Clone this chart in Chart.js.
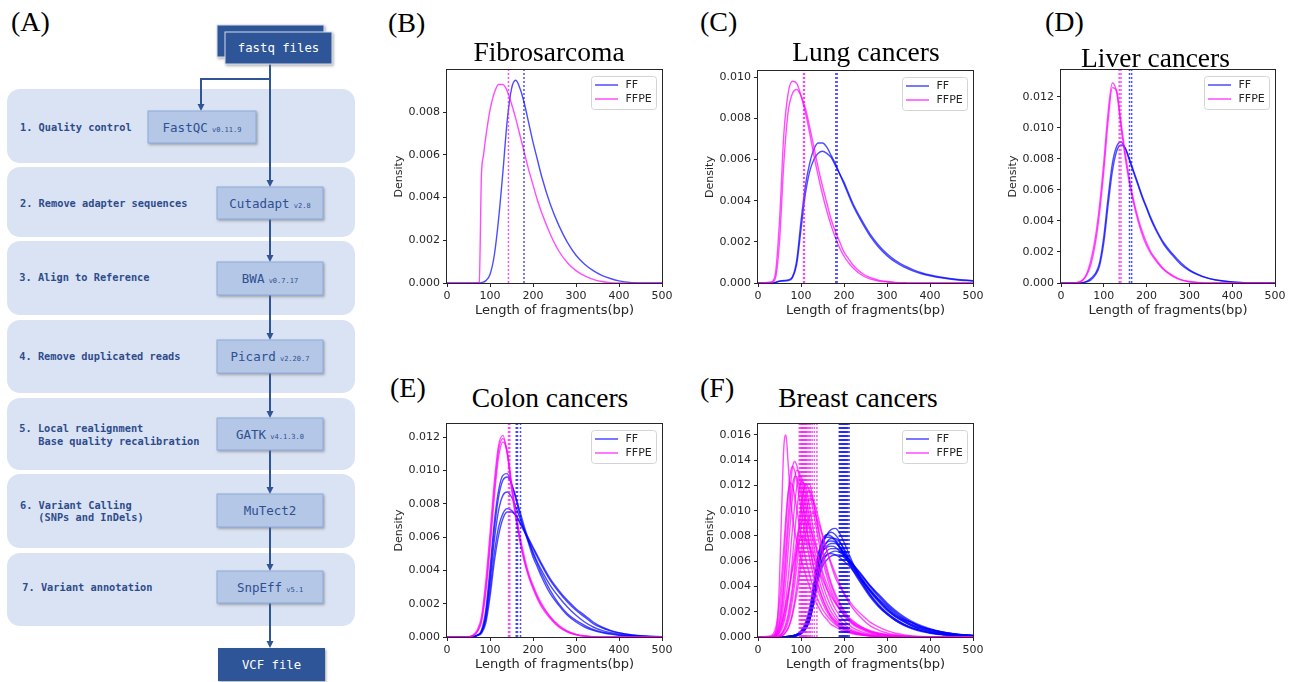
<!DOCTYPE html>
<html lang="en">
<head>
  <meta charset="UTF-8" />
  <title>cfDNA fragment length: FF vs FFPE</title>
  <script src="https://cdn.jsdelivr.net/npm/chart.js@4.4.0/dist/chart.umd.min.js"></script>
  <style>
    body { margin: 0; background: #fff; width: 1298px; height: 682px; overflow: hidden; position: relative; }
    canvas { position: absolute; }
    .ttl { position: absolute; width: 300px; text-align: center; white-space: nowrap;
           font-family: 'Liberation Serif', 'Times New Roman', serif; font-size: 27.5px; line-height: 1; color: #000; }
    .lt  { position: absolute; white-space: nowrap;
           font-family: 'Liberation Serif', 'Times New Roman', serif; font-size: 28px; line-height: 1; color: #000; }
  </style>
</head>
<body>

<!-- (A) pipeline -->
<svg width="370" height="682" style="position:absolute;left:0;top:0" font-family="'DejaVu Sans Mono', monospace">
  <defs>
    <filter id="sh" x="-20%" y="-20%" width="150%" height="160%">
      <feDropShadow dx="1.2" dy="1.5" stdDeviation="0.9" flood-color="#6d6d6d" flood-opacity="0.55"/>
    </filter>
  </defs>
  <g fill="#dae3f3">
    <rect x="7" y="89" width="348" height="74" rx="13"/>
    <rect x="7" y="167" width="348" height="70" rx="13"/>
    <rect x="7" y="241" width="348" height="74" rx="13"/>
    <rect x="7" y="320" width="348" height="73" rx="13"/>
    <rect x="7" y="398" width="348" height="72" rx="13"/>
    <rect x="7" y="474" width="348" height="74" rx="13"/>
    <rect x="7" y="553" width="348" height="73" rx="13"/>
  </g>
  <path d="M270 64V181M270 79H201V105M270 219V256M270 295V334M270 373V412M270 450V488M270 527V565M270 603V642"
        stroke="#2f5597" stroke-width="2" fill="none"/>
  <g fill="#2f5597">
    <polygon points="197.5,104 204.5,104 201,111"/>
    <polygon points="266.5,180 273.5,180 270,187"/>
    <polygon points="266.5,255 273.5,255 270,262"/>
    <polygon points="266.5,333 273.5,333 270,340"/>
    <polygon points="266.5,411 273.5,411 270,418"/>
    <polygon points="266.5,487 273.5,487 270,494"/>
    <polygon points="266.5,564 273.5,564 270,571"/>
    <polygon points="266.5,641 273.5,641 270,648"/>
  </g>
  <g filter="url(#sh)">
    <rect x="217" y="25" width="107" height="32" fill="#2f5597" stroke="#d6dcea" stroke-width="1"/>
    <rect x="225" y="32" width="107" height="32" fill="#2f5597" stroke="#d6dcea" stroke-width="1"/>
    <g fill="#b4c7e7" stroke="#8eaadb" stroke-width="1">
      <rect x="148" y="111" width="108" height="32"/>
      <rect x="217" y="187" width="106" height="32"/>
      <rect x="217" y="262" width="106" height="33"/>
      <rect x="217" y="340" width="106" height="33"/>
      <rect x="217" y="418" width="106" height="32"/>
      <rect x="217" y="494" width="106" height="33"/>
      <rect x="217" y="571" width="106" height="32"/>
    </g>
    <rect x="218" y="648" width="107" height="33" fill="#2f5597"/>
  </g>
  <g fill="#fff" font-size="12.3" text-anchor="middle">
    <text x="278.5" y="52.3">fastq files</text>
    <text x="271.5" y="668.8">VCF file</text>
  </g>
  <g fill="#2f4f8f" font-size="12.5" text-anchor="middle">
    <text x="202" y="131.5">FastQC<tspan font-size="7"> v0.11.9</tspan></text>
    <text x="270" y="207.5">Cutadapt<tspan font-size="7"> v2.8</tspan></text>
    <text x="270" y="283">BWA<tspan font-size="7"> v0.7.17</tspan></text>
    <text x="270" y="361">Picard<tspan font-size="7"> v2.20.7</tspan></text>
    <text x="270" y="438.5">GATK<tspan font-size="7"> v4.1.3.0</tspan></text>
    <text x="270" y="515">MuTect2</text>
    <text x="270" y="591.5">SnpEff<tspan font-size="7"> v5.1</tspan></text>
  </g>
  <g fill="#2e4c8c" font-size="10.3" font-weight="bold">
    <text x="20" y="131.4">1. Quality control</text>
    <text x="20" y="207">2. Remove adapter sequences</text>
    <text x="19.3" y="281.4">3. Align to Reference</text>
    <text x="19.3" y="359.7">4. Remove duplicated reads</text>
    <text x="19.3" y="432">5. Local realignment</text>
    <text x="38.3" y="444.7">Base quality recalibration</text>
    <text x="20" y="508.7">6. Variant Calling</text>
    <text x="38.3" y="521.4">(SNPs and InDels)</text>
    <text x="22.3" y="591.4">7. Variant annotation</text>
  </g>
</svg>

<canvas id="cB" width="293" height="265" style="left:387px;top:60px"></canvas>
<canvas id="cC" width="293" height="264" style="left:698px;top:61px"></canvas>
<canvas id="cD" width="292" height="265" style="left:1001px;top:60px"></canvas>
<canvas id="cE" width="293" height="265" style="left:387px;top:414px"></canvas>
<canvas id="cF" width="293" height="265" style="left:698px;top:414px"></canvas>

<div class="lt" style="left:11px;top:7.5px">(A)</div>
<div class="lt" style="left:388px;top:8.5px">(B)</div>
<div class="lt" style="left:700px;top:8px">(C)</div>
<div class="lt" style="left:1045px;top:8px">(D)</div>
<div class="lt" style="left:390px;top:373.5px">(E)</div>
<div class="lt" style="left:700px;top:373.5px">(F)</div>

<div class="ttl" style="left:399px;top:38px">Fibrosarcoma</div>
<div class="ttl" style="left:716px;top:38px">Lung cancers</div>
<div class="ttl" style="left:1005.5px;top:44px">Liver cancers</div>
<div class="ttl" style="left:400px;top:384px">Colon cancers</div>
<div class="ttl" style="left:708px;top:384px">Breast cancers</div>

<script>
// fragment length grids (bp)
const GRID = [0,30,40,50,60,70,80,90,100,110,120,130,140,150,160,170,180,190,200,210,220,240,260,280,300,320,340,360,380,400,430,460,500];
const GRID_FINE = [0,30,40,45,50,55,60,65,70,75,80,85,90,95,100,110,120,130,140,150,160,170,180,190,200,210,220,240,260,280,300,320,340,360,380,400,430,460,500];

const X_TICKS = [0,100,200,300,400,500];

// (B) Fibrosarcoma
const fibroFF = [0,0,0,0,0,0,0.00002,0.0001,0.0004,0.0013,0.0030,0.0052,0.0076,0.0091,0.0095,0.0091,0.0084,0.0075,0.0066,0.0058,0.0050,0.0037,0.0027,0.0019,0.0013,0.00088,0.00058,0.00036,0.00021,0.0001,0.00002,0,0];
const fibroFFPE = [0,0,0,0,0,0,0,0,0.00001,0.00005,0.0050,0.0060,0.0068,0.0075,0.0081,0.0089,0.0093,0.0093,0.0090,0.0084,0.0077,0.0069,0.0061,0.0053,0.0046,0.0039,0.0033,0.0023,0.0015,0.00095,0.00058,0.00033,0.00017,0.00007,0.00002,0,0,0,0];
const fibroMeanFF = [179];
const fibroMeanFFPE = [143];
const fibroYTicks = [0,0.002,0.004,0.006,0.008];

// (C) Lung cancers
const lungFF1 = [0,0,0.00003,0.0001,0.00012,0.00015,0.0003,0.0011,0.0030,0.0047,0.0058,0.0065,0.0068,0.0068,0.0066,0.0062,0.0058,0.0053,0.0048,0.0043,0.0038,0.0030,0.0023,0.00175,0.00133,0.00101,0.00077,0.00059,0.00045,0.00035,0.00024,0.00016,0.0001];
const lungFF2 = [0,0,0.00002,0.00008,0.0001,0.00012,0.00025,0.0009,0.0026,0.0043,0.0054,0.0060,0.0063,0.0064,0.0063,0.0061,0.0057,0.0053,0.0049,0.0044,0.0039,0.0031,0.0024,0.00185,0.00142,0.00109,0.00084,0.00065,0.0005,0.00039,0.00027,0.00018,0.00011];
const lungFFPE1 = [0,0.00005,0.0004,0.0030,0.0072,0.0092,0.0098,0.0097,0.0091,0.0083,0.0073,0.0062,0.0052,0.0043,0.0035,0.0028,0.0022,0.0017,0.0013,0.0010,0.00075,0.0004,0.0002,0.0001,0.00005,0.00002,0.00001,0,0,0,0,0,0];
const lungFFPE2 = [0,0.00002,0.0002,0.0020,0.0058,0.0083,0.0092,0.0094,0.0091,0.0085,0.0076,0.0066,0.0056,0.0047,0.0039,0.0031,0.0025,0.0020,0.0015,0.0012,0.0009,0.0005,0.00027,0.00014,0.00007,0.00003,0.00001,0,0,0,0,0,0];
const lungMeanFF = [181,184];
const lungMeanFFPE = [106,108];
const lungYTicks = [0,0.002,0.004,0.006,0.008,0.010];

// (D) Liver cancers
const liverFF1 = [0,0,0,0.00002,0.0001,0.0003,0.0006,0.0013,0.0030,0.0055,0.0077,0.0088,0.0091,0.0087,0.0079,0.0071,0.0063,0.0055,0.0048,0.0041,0.0035,0.0025,0.0018,0.0012,0.0008,0.00053,0.00033,0.0002,0.00012,0.00006,0.00002,0,0];
const liverFF2 = [0,0,0,0.00001,0.00008,0.0002,0.0005,0.0011,0.0026,0.0050,0.0072,0.0085,0.0089,0.0087,0.0080,0.0072,0.0064,0.0056,0.0049,0.0042,0.0036,0.0026,0.0019,0.0013,0.00085,0.00056,0.00035,0.00021,0.00013,0.00007,0.00002,0,0];
const liverFFPE1 = [0,0,0.00005,0.0002,0.0006,0.0015,0.0029,0.0050,0.0078,0.0110,0.0129,0.0123,0.0101,0.0081,0.0064,0.0051,0.0040,0.0031,0.0024,0.0019,0.0015,0.00085,0.00045,0.0002,0.00008,0.00002,0,0,0,0,0,0,0];
const liverFFPE2 = [0,0,0.00003,0.00015,0.0005,0.0012,0.0025,0.0045,0.0072,0.0104,0.0126,0.0124,0.0104,0.0084,0.0067,0.0053,0.0042,0.0033,0.0026,0.0020,0.0016,0.0009,0.0005,0.00022,0.0001,0.00003,0,0,0,0,0,0,0];
const liverMeanFF = [160,165];
const liverMeanFFPE = [136,140];
const liverYTicks = [0,0.002,0.004,0.006,0.008,0.010,0.012];

// (E) Colon cancers
const colonFF1 = [0,0,0,0,0.00003,0.0001,0.0004,0.0016,0.0041,0.0069,0.0088,0.0097,0.0098,0.0092,0.0083,0.0073,0.0064,0.0056,0.0048,0.0042,0.0036,0.0026,0.0019,0.0013,0.0009,0.0006,0.0004,0.00026,0.00017,0.0001,0.00005,0.00002,0];
const colonFF2 = [0,0,0,0,0.00003,0.0001,0.0003,0.0013,0.0036,0.0064,0.0084,0.0094,0.0096,0.0092,0.0084,0.0075,0.0066,0.0058,0.0050,0.0044,0.0038,0.0028,0.0020,0.0014,0.0010,0.0007,0.00045,0.0003,0.0002,0.00012,0.00006,0.00003,0];
const colonFF3 = [0,0,0,0,0.00002,0.0001,0.0003,0.0012,0.0033,0.0058,0.0076,0.0085,0.0087,0.0084,0.0078,0.0071,0.0064,0.0057,0.0051,0.0045,0.0040,0.0031,0.0024,0.0018,0.0013,0.0009,0.0006,0.0004,0.00027,0.00017,0.00008,0.00003,0.00001];
const colonFF4 = [0,0,0,0,0,0.0001,0.0003,0.0010,0.0028,0.0050,0.0066,0.0074,0.0077,0.0076,0.0073,0.0068,0.0063,0.0058,0.0053,0.0048,0.0043,0.0034,0.0027,0.0021,0.0016,0.0012,0.0008,0.00055,0.00037,0.00024,0.00012,0.00005,0.00001];
const colonFF5 = [0,0,0,0,0,0.00008,0.0002,0.0008,0.0024,0.0045,0.0061,0.0071,0.0075,0.0075,0.0073,0.0069,0.0064,0.0059,0.0054,0.0049,0.0044,0.0035,0.0028,0.0022,0.0017,0.0013,0.0009,0.0006,0.0004,0.00026,0.00013,0.00006,0.00002];
const colonFFPE1 = [0,0,0,0.00002,0.0001,0.0004,0.0012,0.0033,0.0062,0.0093,0.0115,0.0121,0.0110,0.0089,0.0071,0.0057,0.0045,0.0036,0.0029,0.0023,0.0018,0.0011,0.0006,0.0003,0.00013,0.00005,0.00001,0,0,0,0,0,0];
const colonFFPE2 = [0,0,0,0.00001,0.00008,0.0003,0.0010,0.0029,0.0057,0.0088,0.0112,0.0119,0.0111,0.0091,0.0073,0.0058,0.0046,0.0037,0.0030,0.0024,0.0019,0.0012,0.00065,0.00033,0.00015,0.00006,0.00002,0,0,0,0,0,0];
const colonFFPE3 = [0,0,0,0.00001,0.00007,0.0003,0.0009,0.0026,0.0053,0.0084,0.0108,0.0117,0.0111,0.0093,0.0075,0.0060,0.0048,0.0038,0.0031,0.0025,0.0020,0.0012,0.0007,0.00035,0.00016,0.00006,0.00002,0,0,0,0,0,0];
const colonMeanFF = [161,164,171];
const colonMeanFFPE = [143,146];
const colonYTicks = [0,0.002,0.004,0.006,0.008,0.010,0.012];

// (F) Breast cancers, FF on GRID
const breastFF1  = [0,0,0,0,0.00001,0.00003,0.00006,0.00012,0.0003,0.0007,0.0015,0.0031,0.0055,0.0072,0.0081,0.0085,0.0086,0.0082,0.0075,0.0067,0.0059,0.0045,0.0034,0.0025,0.0018,0.0013,0.0009,0.00062,0.00043,0.0003,0.00017,0.0001,0.00005];
const breastFF2  = [0,0,0,0,0.00001,0.00003,0.00007,0.00015,0.0003,0.0007,0.0016,0.0034,0.0059,0.0075,0.0081,0.0083,0.0081,0.0076,0.0069,0.0062,0.0056,0.0044,0.0034,0.0026,0.0019,0.0014,0.0010,0.0007,0.0005,0.00035,0.0002,0.00012,0.00006];
const breastFF3  = [0,0,0,0,0.00002,0.00004,0.00008,0.00018,0.0004,0.0009,0.0020,0.0040,0.0064,0.0077,0.0081,0.0080,0.0077,0.0072,0.0066,0.0060,0.0054,0.0043,0.0033,0.0025,0.0019,0.0014,0.0010,0.0007,0.0005,0.00035,0.0002,0.00012,0.00006];
const breastFF4  = [0,0,0,0,0.00001,0.00003,0.00006,0.00013,0.0003,0.0006,0.0014,0.0030,0.0053,0.0068,0.0075,0.0078,0.0078,0.0075,0.0070,0.0064,0.0058,0.0047,0.0037,0.0029,0.0022,0.0016,0.0012,0.00085,0.0006,0.00043,0.00026,0.00015,0.00008];
const breastFF5  = [0,0,0,0,0.00002,0.00004,0.00008,0.00017,0.0004,0.0008,0.0018,0.0036,0.0058,0.0070,0.0075,0.0076,0.0075,0.0071,0.0066,0.0061,0.0056,0.0046,0.0036,0.0028,0.0021,0.0016,0.0012,0.00085,0.0006,0.00043,0.00026,0.00015,0.00008];
const breastFF6  = [0,0,0,0,0.00001,0.00003,0.00006,0.00014,0.0003,0.0007,0.0016,0.0033,0.0055,0.0067,0.0072,0.0074,0.0074,0.0071,0.0067,0.0062,0.0057,0.0047,0.0038,0.0030,0.0023,0.0017,0.0013,0.00095,0.0007,0.0005,0.0003,0.00018,0.0001];
const breastFF7  = [0,0,0,0,0.00002,0.00004,0.00009,0.0002,0.0004,0.0009,0.0019,0.0038,0.0058,0.0068,0.0071,0.0072,0.0071,0.0068,0.0064,0.0060,0.0055,0.0046,0.0037,0.0029,0.0022,0.0017,0.0013,0.00095,0.0007,0.0005,0.0003,0.00018,0.0001];
const breastFF8  = [0,0,0,0,0.00001,0.00003,0.00006,0.00013,0.0003,0.0006,0.0014,0.0030,0.0050,0.0062,0.0068,0.0070,0.0070,0.0069,0.0066,0.0062,0.0058,0.0049,0.0040,0.0032,0.0025,0.0019,0.0014,0.0011,0.0008,0.0006,0.00037,0.00022,0.00011];
const breastFF9  = [0,0,0,0,0.00001,0.00002,0.00005,0.0001,0.00025,0.0006,0.0013,0.0028,0.0047,0.0059,0.0065,0.0067,0.0068,0.0067,0.0065,0.0062,0.0058,0.0050,0.0041,0.0033,0.0026,0.0020,0.0015,0.0011,0.0008,0.0006,0.00038,0.00023,0.00012];
const breastFF10 = [0,0,0,0,0.00002,0.00004,0.00009,0.0002,0.0004,0.0009,0.0019,0.0036,0.0053,0.0062,0.0065,0.0066,0.0065,0.0063,0.0060,0.0057,0.0053,0.0045,0.0037,0.0030,0.0024,0.0018,0.0014,0.0011,0.0008,0.0006,0.00038,0.00023,0.00012];
const breastFF11 = [0,0,0,0,0.00001,0.00002,0.00005,0.0001,0.00025,0.0006,0.0013,0.0027,0.0045,0.0056,0.0061,0.0064,0.0065,0.0065,0.0063,0.0060,0.0057,0.0049,0.0041,0.0034,0.0027,0.0021,0.0016,0.0012,0.0009,0.00065,0.0004,0.00025,0.00013];
const breastFF12 = [0,0,0,0,0.00002,0.00005,0.0001,0.0002,0.0005,0.0011,0.0023,0.0043,0.0065,0.0076,0.0079,0.0079,0.0076,0.0071,0.0065,0.0059,0.0053,0.0042,0.0032,0.0024,0.0018,0.0013,0.00095,0.00068,0.00048,0.00034,0.0002,0.00012,0.00006];

// (F) Breast cancers, FFPE on GRID_FINE
const breastFFPE1  = [0,0,0.0003,0.0012,0.0045,0.0100,0.0150,0.0160,0.0138,0.0113,0.0096,0.0084,0.0076,0.0069,0.0062,0.0050,0.0040,0.0031,0.0024,0.0018,0.0014,0.0010,0.0008,0.0006,0.00045,0.00035,0.00026,0.00015,0.00008,0.00004,0.00002,0.00001,0,0,0,0,0,0,0];
const breastFFPE2  = [0,0.00002,0.0002,0.0005,0.0012,0.0025,0.0045,0.0070,0.0095,0.0118,0.0134,0.0139,0.0136,0.0128,0.0118,0.0095,0.0073,0.0055,0.0041,0.0030,0.0022,0.0016,0.0012,0.0009,0.00065,0.0005,0.00037,0.0002,0.0001,0.00005,0.00002,0.00001,0,0,0,0,0,0,0];
const breastFFPE3  = [0,0.00003,0.0003,0.0008,0.0018,0.0036,0.0060,0.0088,0.0112,0.0129,0.0135,0.0132,0.0124,0.0113,0.0102,0.0080,0.0062,0.0047,0.0036,0.0027,0.0020,0.0015,0.0011,0.0008,0.0006,0.00045,0.00033,0.00018,0.0001,0.00005,0.00002,0.00001,0,0,0,0,0,0,0];
const breastFFPE4  = [0,0,0.0001,0.0003,0.0007,0.0015,0.0028,0.0046,0.0068,0.0090,0.0110,0.0125,0.0132,0.0131,0.0125,0.0106,0.0084,0.0064,0.0048,0.0036,0.0027,0.0020,0.0015,0.0011,0.0008,0.0006,0.00045,0.00025,0.00013,0.00007,0.00003,0.00001,0,0,0,0,0,0,0];
const breastFFPE5  = [0,0.0001,0.0006,0.0014,0.0028,0.0048,0.0072,0.0096,0.0114,0.0122,0.0120,0.0112,0.0102,0.0091,0.0081,0.0063,0.0049,0.0038,0.0029,0.0022,0.0017,0.0013,0.0010,0.00075,0.00057,0.00043,0.00032,0.00018,0.0001,0.00005,0.00002,0.00001,0,0,0,0,0,0,0];
const breastFFPE6  = [0,0,0.00005,0.0002,0.0005,0.0010,0.0018,0.0030,0.0046,0.0065,0.0085,0.0104,0.0119,0.0127,0.0127,0.0114,0.0093,0.0072,0.0055,0.0042,0.0032,0.0024,0.0018,0.0013,0.0010,0.00075,0.00055,0.0003,0.00016,0.00008,0.00004,0.00002,0.00001,0,0,0,0,0,0];
const breastFFPE7  = [0,0,0.00003,0.0001,0.0003,0.0006,0.0011,0.0019,0.0030,0.0045,0.0062,0.0081,0.0099,0.0114,0.0123,0.0120,0.0103,0.0082,0.0064,0.0049,0.0038,0.0029,0.0022,0.0017,0.0013,0.0010,0.00075,0.00042,0.00023,0.00012,0.00006,0.00003,0.00001,0,0,0,0,0,0];
const breastFFPE8  = [0,0,0,0.00005,0.00015,0.0003,0.0006,0.0011,0.0018,0.0028,0.0040,0.0055,0.0072,0.0089,0.0104,0.0121,0.0115,0.0097,0.0078,0.0061,0.0048,0.0037,0.0029,0.0022,0.0017,0.0013,0.0010,0.0006,0.00034,0.00019,0.0001,0.00005,0.00002,0.00001,0,0,0,0,0];
const breastFFPE9  = [0,0,0,0,0.0001,0.0002,0.0004,0.0007,0.0012,0.0019,0.0029,0.0041,0.0055,0.0071,0.0086,0.0110,0.0116,0.0105,0.0087,0.0070,0.0055,0.0043,0.0034,0.0027,0.0021,0.0016,0.0013,0.0008,0.00045,0.00026,0.00014,0.00007,0.00003,0.00001,0,0,0,0,0];
const breastFFPE10 = [0,0,0.00005,0.00015,0.0004,0.0008,0.0014,0.0022,0.0032,0.0043,0.0055,0.0066,0.0077,0.0085,0.0091,0.0093,0.0088,0.0077,0.0064,0.0052,0.0042,0.0034,0.0027,0.0022,0.0018,0.0014,0.0011,0.0007,0.00045,0.00028,0.00017,0.0001,0.00005,0.00002,0.00001,0,0,0,0];
const breastFFPE11 = [0,0,0.0001,0.0003,0.0006,0.0011,0.0018,0.0026,0.0035,0.0044,0.0053,0.0061,0.0069,0.0075,0.0079,0.0078,0.0072,0.0063,0.0054,0.0046,0.0038,0.0032,0.0027,0.0022,0.0018,0.0015,0.0012,0.0008,0.00052,0.00033,0.0002,0.00012,0.00007,0.00003,0.00001,0,0,0,0];
const breastFFPE12 = [0,0,0,0,0.00005,0.0001,0.0002,0.0004,0.0007,0.0012,0.0019,0.0028,0.0040,0.0054,0.0068,0.0094,0.0110,0.0107,0.0095,0.0081,0.0068,0.0057,0.0047,0.0040,0.0034,0.0028,0.0023,0.0015,0.0009,0.00055,0.00032,0.00018,0.0001,0.00005,0.00002,0.00001,0,0,0];
const breastFFPE13 = [0,0.00001,0.0001,0.0004,0.0010,0.0021,0.0038,0.0060,0.0084,0.0105,0.0120,0.0127,0.0127,0.0121,0.0112,0.0091,0.0071,0.0054,0.0041,0.0031,0.0023,0.0017,0.0013,0.0010,0.00075,0.00056,0.00042,0.00023,0.00012,0.00006,0.00003,0.00001,0,0,0,0,0,0,0];
const breastFFPE14 = [0,0,0,0.00003,0.0001,0.00025,0.0005,0.0009,0.0015,0.0024,0.0035,0.0049,0.0065,0.0082,0.0098,0.0121,0.0121,0.0105,0.0085,0.0067,0.0052,0.0041,0.0032,0.0025,0.0019,0.0015,0.0011,0.0007,0.0004,0.00022,0.00012,0.00006,0.00003,0.00001,0,0,0,0,0];
const breastFFPE15 = [0,0,0,0,0.00005,0.0001,0.0002,0.0004,0.0007,0.0011,0.0017,0.0025,0.0034,0.0045,0.0057,0.0080,0.0096,0.0098,0.0091,0.0080,0.0069,0.0059,0.0050,0.0042,0.0035,0.0030,0.0025,0.0018,0.0012,0.0008,0.0005,0.0003,0.00017,0.00009,0.00004,0.00002,0,0,0];
const breastMeanFF = [189,191,193,195,197,199,201,203,205,207,209,212];
const breastMeanFFPE = [96,99,101,103,105,107,109,111,113,116,119,122,126,131,137];
const breastYTicks = [0,0.002,0.004,0.006,0.008,0.010,0.012,0.014,0.016];

const FF_COLOR = 'rgba(0,0,255,0.7)';
const FFPE_COLOR = 'rgba(255,0,255,0.7)';

const panels = [
  { id: 'cB', yMax: 0.00998, yTicks: fibroYTicks,
    ff: [[GRID, fibroFF]], ffpe: [[GRID_FINE, fibroFFPE]], mFF: fibroMeanFF, mFFPE: fibroMeanFFPE },
  { id: 'cC', yMax: 0.0103, yTicks: lungYTicks,
    ff: [[GRID, lungFF1], [GRID, lungFF2]], ffpe: [[GRID, lungFFPE1], [GRID, lungFFPE2]], mFF: lungMeanFF, mFFPE: lungMeanFFPE },
  { id: 'cD', yMax: 0.01374, yTicks: liverYTicks,
    ff: [[GRID, liverFF1], [GRID, liverFF2]], ffpe: [[GRID, liverFFPE1], [GRID, liverFFPE2]], mFF: liverMeanFF, mFFPE: liverMeanFFPE },
  { id: 'cE', yMax: 0.01278, yTicks: colonYTicks,
    ff: [colonFF1, colonFF2, colonFF3, colonFF4, colonFF5].map(v => [GRID, v]),
    ffpe: [colonFFPE1, colonFFPE2, colonFFPE3].map(v => [GRID, v]), mFF: colonMeanFF, mFFPE: colonMeanFFPE },
  { id: 'cF', yMax: 0.01687, yTicks: breastYTicks,
    ff: [breastFF1, breastFF2, breastFF3, breastFF4, breastFF5, breastFF6, breastFF7, breastFF8, breastFF9, breastFF10, breastFF11, breastFF12].map(v => [GRID, v]),
    ffpe: [breastFFPE1, breastFFPE2, breastFFPE3, breastFFPE4, breastFFPE5, breastFFPE6, breastFFPE7, breastFFPE8,
           breastFFPE9, breastFFPE10, breastFFPE11, breastFFPE12, breastFFPE13, breastFFPE14, breastFFPE15].map(v => [GRID_FINE, v]),
    mFF: breastMeanFF, mFFPE: breastMeanFFPE }
];

Chart.defaults.font.family = "'DejaVu Sans', sans-serif";
Chart.defaults.font.size = 11;
Chart.defaults.color = '#262626';

function curve(xs, ys, color, order) {
  if (xs.length !== ys.length) throw new Error('length mismatch ' + xs.length + ' vs ' + ys.length);
  return {
    data: xs.map((x, i) => ({ x: x, y: ys[i] })),
    borderColor: color, borderWidth: 1.4, pointRadius: 0, fill: false,
    cubicInterpolationMode: 'monotone', order: order
  };
}

function meanLine(m, yMax, color) {
  return {
    data: [{ x: m, y: 0 }, { x: m, y: yMax }],
    borderColor: color, borderWidth: 1.5, borderDash: [2, 2],
    pointRadius: 0, tension: 0, fill: false, order: 0
  };
}

// frame on all four sides + matplotlib-style legend box
const frameLegend = {
  id: 'frameLegend',
  afterDatasetsDraw(chart) {
    const { ctx, chartArea: a } = chart;
    ctx.save();
    ctx.strokeStyle = '#262626';
    ctx.lineWidth = 1;
    ctx.strokeRect(a.left - 0.5, a.top - 0.5, a.right - a.left + 1, a.bottom - a.top + 1);

    const w = 65, h = 33;
    const bx = a.right - 5.5 - w, by = a.top + 6.5;
    ctx.beginPath();
    ctx.roundRect(bx, by, w, h, 3);
    ctx.fillStyle = 'rgba(255,255,255,0.8)';
    ctx.fill();
    ctx.strokeStyle = '#d4d4d4';
    ctx.stroke();

    const rows = [['FF', FF_COLOR], ['FFPE', FFPE_COLOR]];
    ctx.font = "11px 'DejaVu Sans', sans-serif";
    ctx.textBaseline = 'middle';
    rows.forEach(([label, col], i) => {
      const y = by + 8.5 + i * 14;
      ctx.strokeStyle = col;
      ctx.lineWidth = 1.5;
      ctx.beginPath();
      ctx.moveTo(bx + 3.5, y);
      ctx.lineTo(bx + 26.5, y);
      ctx.stroke();
      ctx.fillStyle = '#262626';
      ctx.fillText(label, bx + 34, y + 0.5);
    });
    ctx.restore();
  }
};

panels.forEach(p => {
  const datasets = [];
  p.ff.forEach(([xs, ys]) => datasets.push(curve(xs, ys, FF_COLOR, 2)));
  p.ffpe.forEach(([xs, ys]) => datasets.push(curve(xs, ys, FFPE_COLOR, 1)));
  p.mFF.forEach(m => datasets.push(meanLine(m, p.yMax, FF_COLOR)));
  p.mFFPE.forEach(m => datasets.push(meanLine(m, p.yMax, FFPE_COLOR)));

  new Chart(document.getElementById(p.id), {
    type: 'line',
    data: { datasets: datasets },
    plugins: [frameLegend],
    options: {
      responsive: false,
      devicePixelRatio: 1,
      animation: false,
      layout: { padding: { top: 10, right: 18, left: 0, bottom: 0 } },
      plugins: { legend: { display: false }, tooltip: { enabled: false } },
      scales: {
        x: {
          type: 'linear', min: 0, max: 500,
          afterBuildTicks: s => { s.ticks = X_TICKS.map(v => ({ value: v })); },
          afterFit: s => { s.height = 42; },
          grid: { drawOnChartArea: false, tickLength: 4, tickColor: '#262626' },
          border: { display: false },
          ticks: { padding: 3, maxRotation: 0, autoSkip: false, font: { size: 11 } },
          title: { display: true, text: 'Length of fragments(bp)', font: { size: 13 }, padding: { top: 0, bottom: 7 } }
        },
        y: {
          type: 'linear', min: 0, max: p.yMax,
          afterBuildTicks: s => { s.ticks = p.yTicks.map(v => ({ value: v })); },
          afterFit: s => { s.width = 60; },
          grid: { drawOnChartArea: false, tickLength: 4, tickColor: '#262626' },
          border: { display: false },
          ticks: { padding: 3, autoSkip: false, font: { size: 11 }, callback: v => v.toFixed(3) },
          title: { display: true, text: 'Density', font: { size: 11 }, padding: { top: 6, bottom: 0 } }
        }
      }
    }
  });
});
</script>
</body>
</html>
